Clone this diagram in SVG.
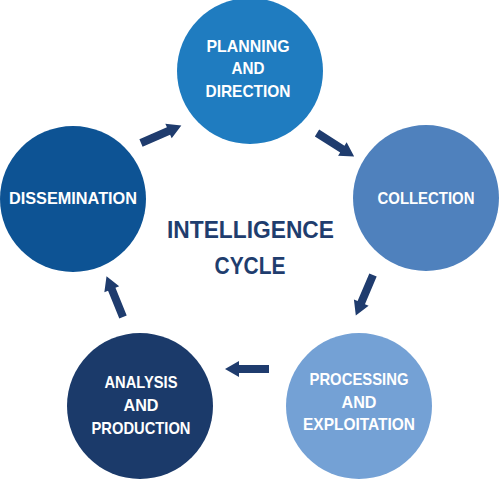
<svg xmlns="http://www.w3.org/2000/svg" width="500" height="479" viewBox="0 0 500 479">
<defs>
<style>
.lbl{font-family:"Liberation Sans",Arial,sans-serif;font-weight:bold;font-size:17px;fill:#ffffff;text-anchor:middle}
.ttl{font-family:"Liberation Sans",Arial,sans-serif;font-weight:bold;font-size:23.5px;fill:#1f3d6e;text-anchor:middle}
.arr{fill:#1f3c6e}
</style>
<path id="arrow" d="M0,-4 L30,-4 L30,-8 L44,0 L30,8 L30,4 L0,4 Z"/>
</defs>
<rect width="500" height="479" fill="#ffffff"/>
<g id="connectors" class="arr">
<use href="#arrow" transform="translate(141,143) rotate(-23.5)"/>
<use href="#arrow" transform="translate(317,133) rotate(32.4)"/>
<use href="#arrow" transform="translate(373,275) rotate(113)"/>
<use href="#arrow" transform="translate(269,369) rotate(180)"/>
<use href="#arrow" transform="translate(123,317) rotate(248)"/>
</g>
<g id="planning">
<circle cx="250" cy="71" r="73" fill="#1f7cc0"/>
<text class="lbl" x="248" y="52" textLength="83" lengthAdjust="spacingAndGlyphs">PLANNING</text>
<text class="lbl" x="248" y="74" textLength="33" lengthAdjust="spacingAndGlyphs">AND</text>
<text class="lbl" x="248" y="97" textLength="85" lengthAdjust="spacingAndGlyphs">DIRECTION</text>
</g>
<g id="collection">
<circle cx="426" cy="198" r="73" fill="#4f81bd"/>
<text class="lbl" x="426" y="204" textLength="97" lengthAdjust="spacingAndGlyphs">COLLECTION</text>
</g>
<g id="processing">
<circle cx="359" cy="406" r="73" fill="#74a1d5"/>
<text class="lbl" x="359" y="385" textLength="99" lengthAdjust="spacingAndGlyphs">PROCESSING</text>
<text class="lbl" x="359" y="408" textLength="35" lengthAdjust="spacingAndGlyphs">AND</text>
<text class="lbl" x="359" y="430" textLength="112" lengthAdjust="spacingAndGlyphs">EXPLOITATION</text>
</g>
<g id="analysis">
<circle cx="140" cy="406" r="73" fill="#1b3a6a"/>
<text class="lbl" x="141" y="388" textLength="73" lengthAdjust="spacingAndGlyphs">ANALYSIS</text>
<text class="lbl" x="141" y="411" textLength="35" lengthAdjust="spacingAndGlyphs">AND</text>
<text class="lbl" x="141" y="434" textLength="99" lengthAdjust="spacingAndGlyphs">PRODUCTION</text>
</g>
<g id="dissemination">
<circle cx="73" cy="199" r="73" fill="#0d5394"/>
<text class="lbl" x="73" y="204" textLength="128" lengthAdjust="spacingAndGlyphs">DISSEMINATION</text>
</g>
<g id="title">
<text class="ttl" x="250.5" y="238" textLength="167" lengthAdjust="spacingAndGlyphs">INTELLIGENCE</text>
<text class="ttl" x="250" y="274" textLength="71" lengthAdjust="spacingAndGlyphs">CYCLE</text>
</g>
</svg>
